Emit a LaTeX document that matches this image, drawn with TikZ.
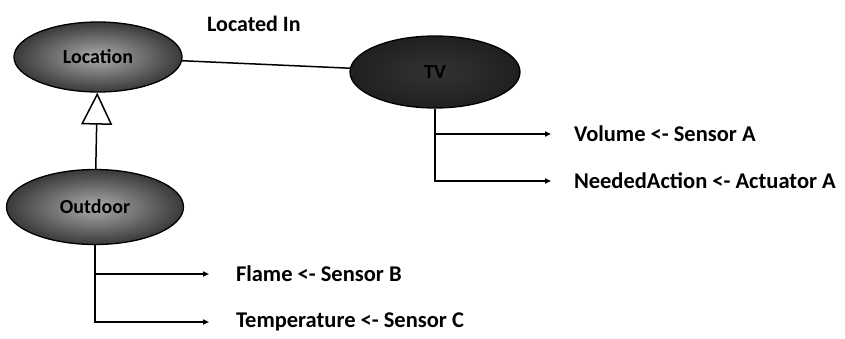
\documentclass[tikz,border=0pt]{standalone}
\usepackage{fontspec}
\setmainfont{Carlito}
\usetikzlibrary{shapes.geometric,arrows.meta}
\tikzset{
  cls/.style={ellipse, draw=black, line width=1.3pt, inner sep=0pt, font=\fontsize{20}{22}\selectfont\bfseries, text=black},
  lightcls/.style={cls, inner color=gray!65, outer color=gray!45!black},
  darkcls/.style={cls, inner color=gray!40!black, outer color=gray!25!black},
  attr/.style={anchor=west, inner xsep=0pt, inner ysep=2pt, outer sep=0pt, font=\fontsize{22.5}{25}\selectfont\bfseries},
  conn/.style={line width=1.5pt, black},
  tip/.style={conn, -{Triangle[length=6pt,width=5pt]}},
}
\begin{document}
\begin{tikzpicture}[x=1pt,y=-1pt]
\useasboundingbox (0,0) rectangle (845,339);
\fill[white] (0,0) rectangle (845,339);
\node[lightcls, minimum width=168pt, minimum height=70pt] (location) at (98,57) {Location};
\node[darkcls, minimum width=170pt, minimum height=72pt] (tv) at (435,72) {TV};
\node[lightcls, minimum width=177pt, minimum height=75pt] (outdoor) at (95,207) {Outdoor};
\node[font=\fontsize{22}{24}\selectfont\bfseries, anchor=west, inner sep=0pt] (locin) at (207,24) {Located In};
\draw[conn] (location) -- (tv);
\draw[conn, -{Triangle[open, length=32pt, width=31pt, line width=1.5pt]}] (outdoor) -- (location);
% TV attributes
\node[attr] (vol) at (562,134) {\hspace{12pt}Volume <- Sensor A};
\node[attr] (need) at (562,181) {\hspace{12pt}NeededAction <- Actuator A};
\draw[tip, shorten >=11pt] (tv.south) |- (vol.west);
\draw[tip, shorten >=11pt] (tv.south) |- (need.west);
% Outdoor attributes
\node[attr] (flame) at (222,274) {\hspace{14pt}Flame <- Sensor B};
\node[attr] (temp) at (222,322) {\hspace{14pt}Temperature <- Sensor C};
\draw[tip, shorten >=13pt] (outdoor.south) |- (flame.west);
\draw[tip, shorten >=13pt] (outdoor.south) |- (temp.west);
\end{tikzpicture}
\end{document}
